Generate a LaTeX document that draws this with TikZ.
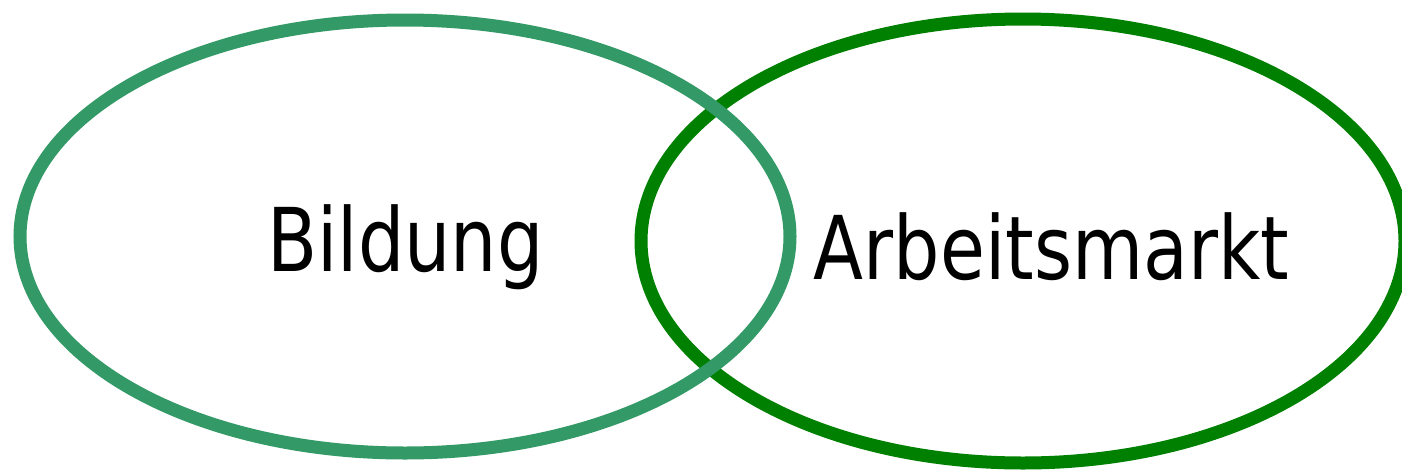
\documentclass[tikz,border=0pt]{standalone}
\usepackage{fontspec}
\setmainfont{DejaVu Sans}
\definecolor{leftgreen}{RGB}{51,153,102}
\definecolor{rightgreen}{RGB}{0,128,0}
\tikzset{
  ring/.style={line width=13pt},
  label/.style={anchor=base, inner sep=0pt, font=\fontsize{88}{100}\selectfont}
}
\begin{document}
\begin{tikzpicture}[x=1pt,y=-1pt]
\useasboundingbox (0,0) rectangle (1402,474);
\draw[ring, rightgreen] (1023,241) ellipse [x radius=382, y radius=222];
\draw[ring, leftgreen] (405,236.5) ellipse [x radius=385, y radius=216.5];
\node[label] (bildung) at (405.5,271) {\scalebox{0.83}[1]{Bildung}};
\node[label] (arbeit) at (1051.5,279) {\scalebox{0.83}[1]{Arbeitsmarkt}};
\end{tikzpicture}
\end{document}
